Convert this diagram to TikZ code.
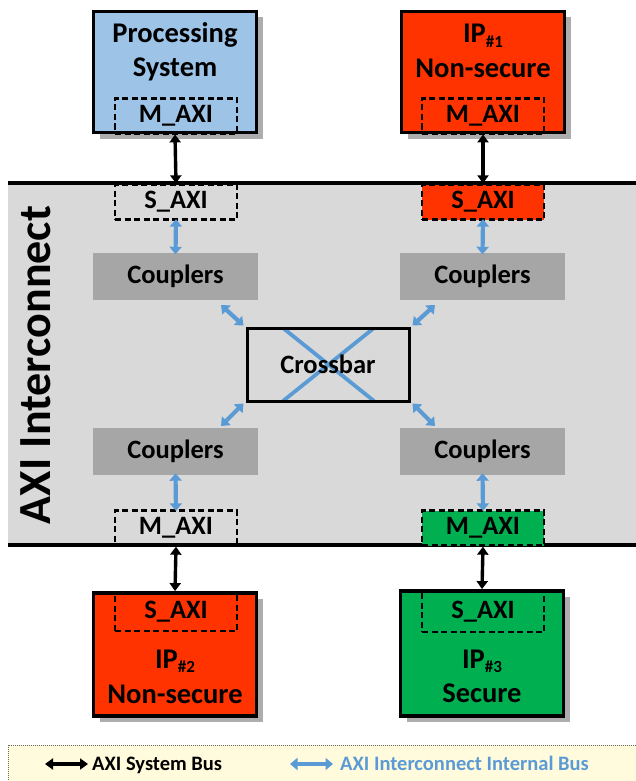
\documentclass[tikz,border=0pt]{standalone}
\usepackage{fontspec}
\setmainfont{Carlito}
\usetikzlibrary{arrows.meta,shadows,calc}
\definecolor{psblue}{HTML}{9DC3E6}
\definecolor{ipred}{HTML}{FF3300}
\definecolor{ipgreen}{HTML}{00B050}
\definecolor{bandgray}{HTML}{D9D9D9}
\definecolor{cplgray}{HTML}{A6A6A6}
\definecolor{busblue}{HTML}{5B9BD5}
\definecolor{legfill}{HTML}{FFFBDC}
\newcommand{\mainfnt}{\bfseries\fontsize{28.5}{33}\selectfont}
\newcommand{\portfnt}{\bfseries\fontsize{26.5}{30}\selectfont}
\newcommand{\legfnt}{\bfseries\fontsize{20.5}{24}\selectfont}
\newcommand{\subfnt}{\fontsize{17}{17}\selectfont}
\begin{document}
\begin{tikzpicture}[x=1pt,y=-1pt,
  mainbox/.style={draw=black,line width=3.8pt,minimum width=163pt,minimum height=121pt,inner sep=0pt,
    drop shadow={shadow xshift=6pt,shadow yshift=-6pt,fill=black!40,opacity=0.8}},
  portbox/.style={draw=black,line width=2.3pt,dash pattern=on 6pt off 3.5pt,minimum width=122pt,minimum height=35pt,inner sep=0pt,font=\portfnt},
  cplbox/.style={fill=cplgray,minimum width=165pt,minimum height=47pt,inner sep=0pt,font=\portfnt},
  lbl/.style={anchor=base,inner sep=0pt,font=\mainfnt},
  sysbus/.style={line width=3.4pt,{Triangle[width=11pt,length=8pt]}-{Triangle[width=11pt,length=8pt]}},
  intbus/.style={draw=busblue,line width=4.2pt,{Triangle[width=12pt,length=7.5pt]}-{Triangle[width=12pt,length=7.5pt]}}
]
\useasboundingbox (0,0) rectangle (636,781);

% interconnect band
\fill[bandgray] (8,183) rectangle (640,545);
\draw[line width=3.5pt] (8,183) -- (640,183);
\draw[line width=3.5pt] (8,545) -- (640,545);
\node[rotate=90,font=\bfseries\fontsize{46}{50}\selectfont,inner sep=0pt] (axi) at (36,365) {AXI Interconnect};

% top masters
\node[mainbox,fill=psblue] (ps) at (175,72) {};
\node[lbl] (pst1) at (175,43) {Processing};
\node[lbl] (pst2) at (175,77) {System};
\node[portbox] (psm) at (176,116) {M\_AXI};

\node[mainbox,fill=ipred] (ip1) at (483,72) {};
\node[lbl] (ip1t1) at (483,43) {IP\raisebox{-0.35ex}{\subfnt\#1}};
\node[lbl] (ip1t2) at (483,78) {Non-secure};
\node[portbox] (ip1m) at (483,116) {M\_AXI};

% slave ports of interconnect
\node[portbox,fill=bandgray] (s0) at (176,202) {S\_AXI};
\node[portbox,fill=ipred] (s1) at (483,202) {S\_AXI};

% couplers
\node[cplbox] (c1) at (175.5,276.5) {Couplers};
\node[cplbox] (c2) at (482.5,276.5) {Couplers};
\node[cplbox] (c3) at (175.5,451) {Couplers};
\node[cplbox] (c4) at (482.5,451) {Couplers};

% crossbar
\node[draw=black,fill=bandgray,line width=3pt,minimum width=162pt,minimum height=73pt,inner sep=0pt,font=\portfnt,
  path picture={
    \draw[busblue,line width=3.8pt]
      ($(path picture bounding box.north west)+(36,0)$) -- ($(path picture bounding box.south east)+(-35,0)$)
      ($(path picture bounding box.north east)+(-35,0)$) -- ($(path picture bounding box.south west)+(36,0)$);
  }] (xbar) at (328,364.5) {Crossbar};

% master ports of interconnect
\node[portbox] (m0) at (176,528) {M\_AXI};
\node[portbox,fill=ipgreen] (m1) at (483,528) {M\_AXI};

% bottom slaves
\node[mainbox,fill=ipred,minimum height=123pt] (ip2) at (175,654.5) {};
\node[portbox,minimum height=38pt] (ip2s) at (176,612) {S\_AXI};
\node[lbl] (ip2t1) at (175,668) {IP\raisebox{-0.35ex}{\subfnt\#2}};
\node[lbl] (ip2t2) at (175,703) {Non-secure};

\node[mainbox,fill=ipgreen,minimum height=125pt] (ip3) at (482,653.5) {};
\node[portbox,minimum height=40pt] (ip3s) at (483,612) {S\_AXI};
\node[lbl] (ip3t1) at (482,668) {IP\raisebox{-0.35ex}{\subfnt\#3}};
\node[lbl] (ip3t2) at (482,702) {Secure};

% system bus connectors
\draw[sysbus] (ps.south) -- (s0.north);
\draw[sysbus] (ip1.south) -- (s1.north);
\draw[sysbus] (m0.south) -- (ip2.north);
\draw[sysbus] (m1.south) -- (ip3.north);

% internal bus connectors
\draw[intbus] ([yshift=1.5pt]s0.south) -- ([yshift=-1.5pt]c1.north);
\draw[intbus] ([yshift=1.5pt]s1.south) -- ([yshift=-1.5pt]c2.north);
\draw[intbus] ([yshift=1.5pt]c3.south) -- ([yshift=-1.5pt]m0.north);
\draw[intbus] ([yshift=1.5pt]c4.south) -- ([yshift=-1.5pt]m1.north);

\coordinate (d1) at (221,305);
\coordinate (d2) at (435,305);
\coordinate (d3) at (221,426);
\coordinate (d4) at (435,426);
\draw[intbus] (d1) -- ([shift={(-2,-1)}]xbar.north west);
\draw[intbus] (d2) -- ([shift={(2,-1)}]xbar.north east);
\draw[intbus] (d3) -- ([shift={(-2,1)}]xbar.south west);
\draw[intbus] (d4) -- ([shift={(2,1)}]xbar.south east);

% legend
\draw[fill=legfill,draw=black!60,line width=0.8pt,dash pattern=on 1pt off 1pt] (8,745) rectangle (640,790);
\coordinate (la) at (45,764);
\coordinate (lb) at (88,764);
\draw[sysbus] (la) -- (lb);
\node[anchor=base west,inner sep=0pt,font=\legfnt] (lt1) at (92,770) {AXI System Bus};
\coordinate (lc) at (290,764);
\coordinate (ld) at (333,764);
\draw[intbus] (lc) -- (ld);
\node[anchor=base west,inner sep=0pt,font=\legfnt,text=busblue] (lt2) at (340,770) {AXI Interconnect Internal Bus};
\end{tikzpicture}
\end{document}
